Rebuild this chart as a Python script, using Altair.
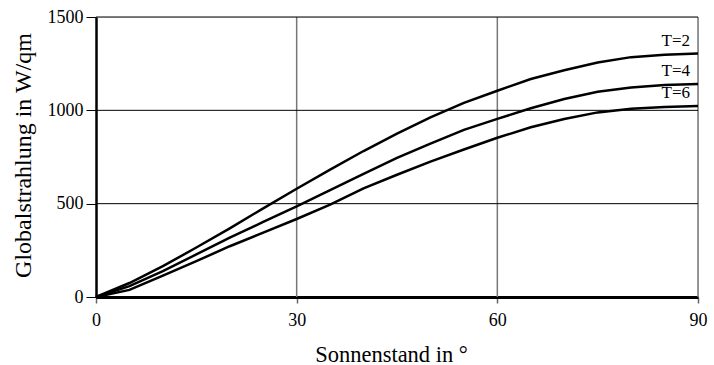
import altair as alt
import pandas as pd

# Sun elevation in degrees and global radiation (W/qm) for three turbidity values
sonnenstand = [0, 5, 10, 15, 20, 25, 30, 35, 40, 45, 50, 55, 60, 65, 70, 75, 80, 85, 90]
t2 = [0, 75, 165, 265, 368, 475, 580, 682, 782, 875, 962, 1040, 1105, 1168, 1215, 1256, 1285, 1298, 1304]
t4 = [0, 58, 138, 228, 318, 402, 486, 572, 660, 745, 822, 895, 954, 1011, 1061, 1100, 1122, 1136, 1141]
t6 = [0, 38, 115, 192, 272, 345, 418, 495, 582, 655, 725, 790, 853, 909, 954, 989, 1008, 1018, 1023]
serien = {"T=2": t2, "T=4": t4, "T=6": t6}

x_gitter = [30, 60, 90]
y_gitter = [500, 1000, 1500]
x_ticks = [0, 30, 60, 90]
y_ticks = [0, 500, 1000, 1500]

FONT = "'Liberation Serif', 'Times New Roman', serif"

rows = []
for name, werte in serien.items():
    for d, v in zip(sonnenstand, werte):
        rows.append({"grad": d, "wert": v, "kurve": name})
df = pd.DataFrame(rows)

labels = pd.DataFrame(
    [{"grad": sonnenstand[-1], "wert": w[-1], "kurve": n} for n, w in serien.items()]
)

x_scale = alt.Scale(domain=[0, 90], nice=False, zero=False)
y_scale = alt.Scale(domain=[0, 1500], nice=False)

x_axis = alt.Axis(
    values=x_ticks, grid=False, title="Sonnenstand in °", format="d",
    titleFont=FONT, titleFontSize=22.5, titleFontWeight="normal", titleColor="black",
    titleX=295, titleY=57, titleBaseline="middle",
    labelFont=FONT, labelFontSize=18, labelColor="black", labelPadding=8,
    labelFlush=False,
    domainColor="black", domainWidth=3, tickColor="#666666", tickSize=6, tickWidth=1.5,
)
y_axis = alt.Axis(
    values=y_ticks, grid=False, title="Globalstrahlung in W/qm", format="d",
    titleFont=FONT, titleFontSize=24, titleFontWeight="normal", titleColor="black",
    titleX=-73, titleY=138, titleAngle=-90, titleBaseline="middle", titleAlign="center",
    labelFont=FONT, labelFontSize=18, labelColor="black", labelPadding=3,
    labelFlush=False,
    domainColor="black", domainWidth=2.5, tickColor="black", tickSize=10, tickWidth=1,
)

X = alt.X("grad:Q", scale=x_scale, axis=x_axis)
Y = alt.Y("wert:Q", scale=y_scale, axis=y_axis)

lines = alt.Chart(df).mark_line(color="black", strokeWidth=2.5, interpolate="linear").encode(
    x=X, y=Y, detail="kurve:N",
)

v_rules = alt.Chart(pd.DataFrame({"grad": x_gitter})).mark_rule(
    color="#777777", strokeWidth=1.5
).encode(x=X)

h_rules = alt.Chart(pd.DataFrame({"wert": y_gitter})).mark_rule(
    color="black", strokeWidth=1
).encode(y=Y)

texts = alt.Chart(labels).mark_text(
    align="right", baseline="bottom", dx=-8, dy=-4,
    font=FONT, fontSize=17, color="black",
).encode(x=X, y=Y, text="kurve:N")

chart = (
    alt.layer(v_rules, h_rules, lines, texts)
    .properties(
        width=602, height=280,
        autosize=alt.AutoSizeParams(type="none"),
        padding={"left": 96, "top": 17, "right": 16, "bottom": 68},
        background="white",
    )
    .configure_view(stroke=None)
    .configure(font=FONT)
)

chart.save("out.html", embed_options={"renderer": "svg", "actions": False})
